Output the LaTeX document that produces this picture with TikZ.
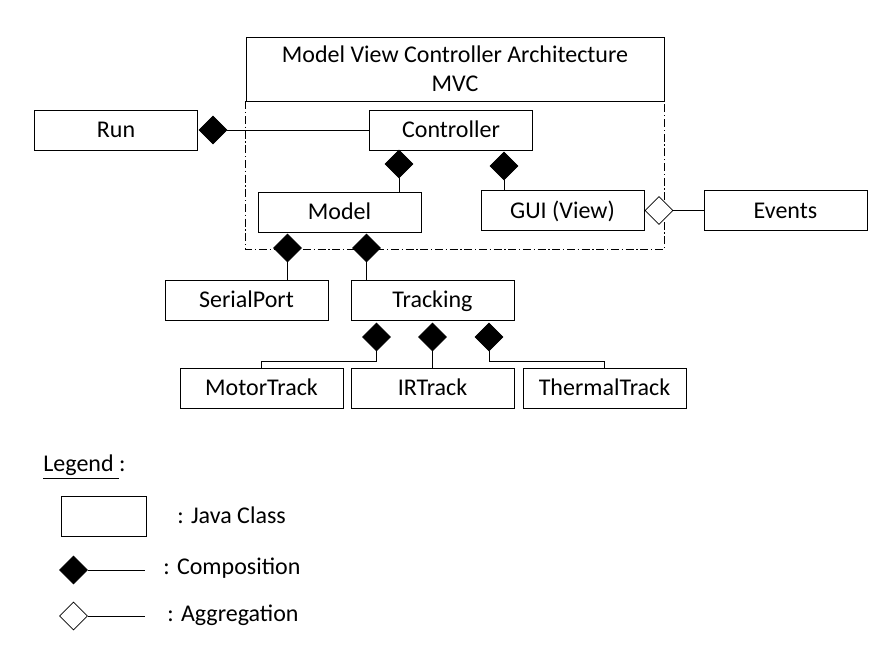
\documentclass[tikz,border=0pt]{standalone}
\usepackage{fontspec}
\setmainfont{Carlito}
\usetikzlibrary{shapes.geometric}

\begin{document}
\begin{tikzpicture}[x=0.75pt,y=-0.75pt,line width=0.6pt,
      font=\fontsize{18}{21.75}\selectfont,
      cls/.style={draw,minimum width=122.25pt,minimum height=30pt,inner sep=0pt,
        text height=14pt,text depth=2.4pt},
      comp/.style={diamond,draw,fill=black,minimum width=21pt,minimum height=21pt,inner sep=0pt},
      aggr/.style={diamond,draw,fill=white,minimum width=21pt,minimum height=21pt,inner sep=0pt},
      lbl/.style={anchor=west,inner sep=0pt},
      frame/.style={dash pattern=on 6pt off 2pt on 1pt off 2pt}]
      \useasboundingbox (0,0) rectangle (894,654);

      % classes
      \node[draw,minimum width=313.5pt,minimum height=48pt,inner sep=0pt,align=center]
        (title) at (455,69) {Model View Controller Architecture\\MVC};
      \node[cls] (run)    at (116,130)   {Run};
      \node[cls] (ctrl)   at (451,130)   {Controller};
      \node[cls] (model)  at (339.5,212) {Model};
      \node[cls] (gui)    at (562.5,210.5) {GUI (View)};
      \node[cls] (events) at (785.5,210.5) {Events};
      \node[cls] (serial) at (246.5,300) {SerialPort};
      \node[cls] (track)  at (432.5,300) {Tracking};
      \node[cls] (motor)  at (261.5,388) {MotorTrack};
      \node[cls] (ir)     at (432.5,388) {IRTrack};
      \node[cls] (therm)  at (604.5,388) {ThermalTrack};

      % MVC frame
      \draw[frame] (title.south west) -- ++(0,148) -| (title.south east);

      % relations
      \node[comp] (dRun)    at (213,130)   {};
      \node[comp] (dModel)  at (399,164)   {};
      \node[comp] (dGui)    at (504,166)   {};
      \node[comp] (dSerial) at (287.5,248) {};
      \node[comp] (dTrack)  at (366.5,248) {};
      \node[aggr] (dEvents) at (659,210.5) {};
      \node[comp] (dMotor)  at (376.5,337) {};
      \node[comp] (dIr)     at (432.5,337) {};
      \node[comp] (dTherm)  at (489,337)   {};

      \draw (dRun.east) -- (ctrl.west);
      \draw (dModel.south) -- (dModel.south |- model.north);
      \draw (dGui.south) -- (dGui.south |- gui.north);
      \draw (dSerial.south) -- (dSerial.south |- serial.north);
      \draw (dTrack.south) -- (dTrack.south |- track.north);
      \draw (dEvents.east) -- (events.west);
      \draw (dMotor.south) -- ++(0,10) -| (motor.north);
      \draw (dIr.south) -- (ir.north);
      \draw (dTherm.south) -- ++(0,10) -| (therm.north);

      % legend
      \node[lbl] (leg) at (43,467) {\underline{Legend\ }:};
      \node[cls,minimum width=63.75pt] (legCls) at (103.5,516) {};
      \node[lbl] (legClsT) at (177,515) {: Java Class};
      \node[comp] (legComp) at (73.5,570) {};
      \coordinate (legCompE) at (145,570);
      \node[lbl] (legCompT) at (163,568) {: Composition};
      \node[aggr] (legAggr) at (73.5,616) {};
      \coordinate (legAggrE) at (145,616);
      \node[lbl] (legAggrT) at (167,615) {: Aggregation};
      \draw (legComp.east) -- (legCompE);
      \draw (legAggr.east) -- (legAggrE);
\end{tikzpicture}
\end{document}
